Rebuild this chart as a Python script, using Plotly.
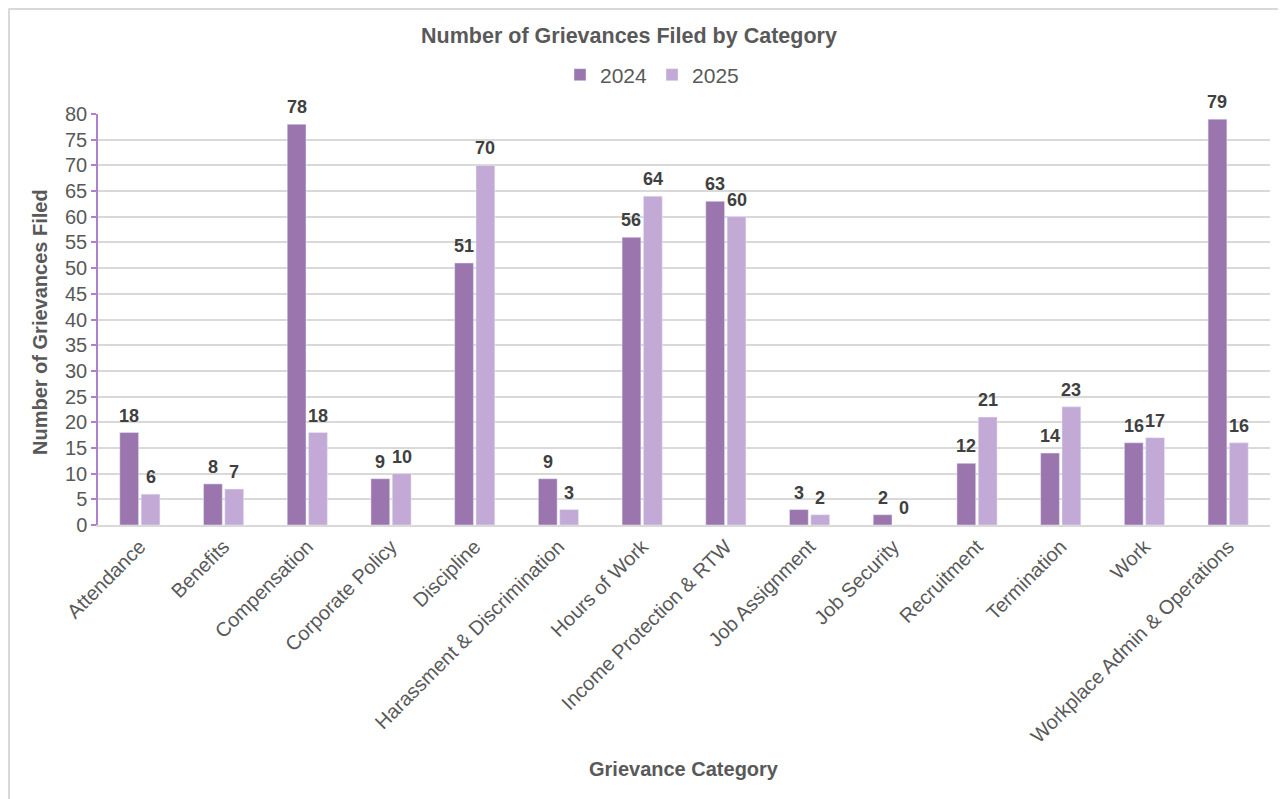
import plotly.graph_objects as go

categories = ["Attendance", "Benefits", "Compensation", "Corporate Policy", "Discipline",
              "Harassment & Discrimination", "Hours of Work", "Income Protection & RTW",
              "Job Assignment", "Job Security", "Recruitment", "Termination", "Work",
              "Workplace Admin & Operations"]
values_2024 = [18, 8, 78, 9, 51, 9, 56, 63, 3, 2, 12, 14, 16, 79]
values_2025 = [6, 7, 18, 10, 70, 3, 64, 60, 2, 0, 21, 23, 17, 16]
y_ticks = list(range(0, 85, 5))

FONT = "Liberation Sans, Arial, sans-serif"
OFF = 8  # page body margin
W, H = 1286 - OFF, 799 - OFF
L, R, T, B = 98 - OFF, 16, 114 - OFF, 274
pw = W - L - R
ph = H - T - B
BARGAP, GROUPGAP = 0.49, 0.12
cat_w = pw / len(categories)
slot = cat_w * (1 - BARGAP) / 2

def px_x(p):
    return (p - OFF - L) / pw

def px_y(p):
    return (H - B - (p - OFF)) / ph

fig = go.Figure()
fig.add_trace(go.Bar(
    x=categories, y=values_2024, name="2024",
    marker=dict(color="#9b75ae"),
))
fig.add_trace(go.Bar(
    x=categories, y=values_2025, name="2025",
    marker=dict(color="#c3a9d5"),
))

# data labels above the bars
for vals, sign in ((values_2024, -1), (values_2025, 1)):
    for c, v in zip(categories, vals):
        fig.add_annotation(x=c, y=v, xref="x", yref="y", text=f"<b>{v}</b>",
                           showarrow=False, xshift=sign * slot / 2, yshift=17,
                           xanchor="center", yanchor="middle",
                           font=dict(family=FONT, size=18, color="#404040"))

fig.update_layout(
    width=W, height=H,
    margin=dict(l=L, r=R, t=T, b=B, autoexpand=False),
    paper_bgcolor="white", plot_bgcolor="white",
    font=dict(family=FONT, color="#595959"),
    barmode="group", bargap=BARGAP, bargroupgap=GROUPGAP,
    title=dict(text="<b>Number of Grievances Filed by Category</b>",
               x=(629 - OFF) / W, xanchor="center", y=1 - (35 - OFF) / H, yanchor="middle",
               font=dict(family=FONT, size=21.5, color="#595959")),
    legend=dict(orientation="h", x=px_x(652), xanchor="center",
                y=px_y(75), yanchor="middle",
                font=dict(family=FONT, size=21, color="#595959"),
                itemwidth=30, traceorder="normal", bgcolor="rgba(0,0,0,0)"),
    showlegend=True,
)

fig.update_xaxes(
    tickangle=-45, tickfont=dict(family=FONT, size=20, color="#595959"),
    showline=True, linecolor="#d9d9d9", linewidth=2,
    showgrid=False, ticks="", automargin=False,
)
fig.update_yaxes(
    range=[0, 80], tickvals=y_ticks,
    tickfont=dict(family=FONT, size=20, color="#595959"),
    showgrid=True, gridcolor="#d9d9d9", gridwidth=1.5,
    showline=True, linecolor="#b07fd0", linewidth=1.5,
    ticks="outside", ticklen=5, tickcolor="#b07fd0", tickwidth=1.5,
    zeroline=False, automargin=False,
)

fig.add_annotation(text="<b>Number of Grievances Filed</b>", xref="paper", yref="paper",
                   x=px_x(40), y=px_y(322), textangle=-90, showarrow=False,
                   xanchor="center", yanchor="middle",
                   font=dict(family=FONT, size=20, color="#595959"))
fig.add_annotation(text="<b>Grievance Category</b>", xref="paper", yref="paper",
                   x=px_x(684), y=px_y(769), showarrow=False,
                   xanchor="center", yanchor="middle",
                   font=dict(family=FONT, size=20, color="#595959"))

# outer chart border (top and left visible)
fig.add_shape(type="line", xref="paper", yref="paper",
              x0=px_x(8.5), x1=px_x(1290), y0=px_y(9), y1=px_y(9),
              line=dict(color="#d9d9d9", width=2))
fig.add_shape(type="line", xref="paper", yref="paper",
              x0=px_x(9), x1=px_x(9), y0=px_y(9), y1=px_y(805),
              line=dict(color="#d9d9d9", width=2))

fig.write_html("out.html")
